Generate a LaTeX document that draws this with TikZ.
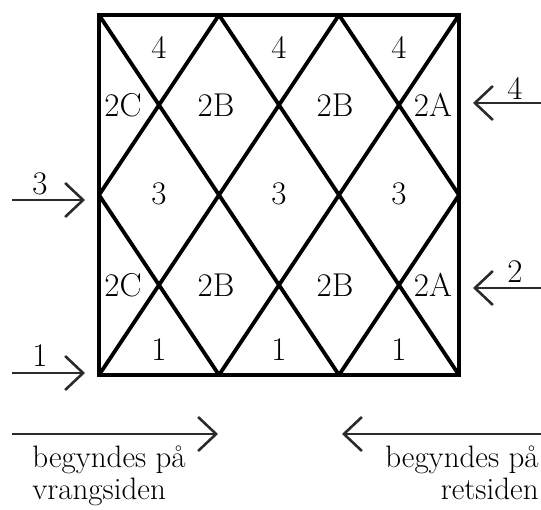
\documentclass[tikz,border=0pt]{standalone}
\usepackage{tikz}
\usetikzlibrary{arrows.meta}
\definecolor{arrowgray}{HTML}{2b2b2b}

\begin{document}
\begin{tikzpicture}[x=0.5pt, y=-0.5pt,
  every node/.style={font=\fontsize{16.5}{19}\selectfont, inner sep=0pt},
  frame/.style={line width=2.2pt},
  diag/.style={line width=1.9pt},
  arr/.style={arrowgray, line width=1.3pt,
    -{Straight Barb[length=9pt, width=17pt, line width=1.3pt]}},
  note/.style={font=\fontsize{15.5}{16}\selectfont}]

\useasboundingbox (0,0) rectangle (541,509);

% corners of the diamond grid: top, middle and bottom rows
\foreach \i/\x in {0/99, 1/219, 2/339, 3/459}{
  \coordinate (t\i) at (\x,15);
  \coordinate (m\i) at (\x,195);
  \coordinate (b\i) at (\x,375);
}

% diagonals
\draw[diag] (t0) -- (b2) (t1) -- (b3) (t2) -- (m3) (m0) -- (b1);
\draw[diag] (t1) -- (m0) (t2) -- (b0) (t3) -- (b1) (m3) -- (b2);
\draw[frame] (t0) rectangle (b3);

% numbers in the cells
\foreach \x/\k in {159/1, 279/2, 399/3}{
  \node (four\k) at (\x,47) {4};
  \node (three\k) at (\x,194) {3};
  \node (one\k) at (\x,350) {1};
}
\foreach \y/\r in {105/u, 285/l}{
  \node (twoC\r) at (123,\y) {2C};
  \node (twoBa\r) at (216,\y) {2B};
  \node (twoBb\r) at (335,\y) {2B};
  \node (twoA\r) at (433,\y) {2A};
}

% row arrows, left and right
\foreach \n/\y/\ly in {3/200/184, 1/373/356}{
  \coordinate (ls\n) at (12,\y); \coordinate (le\n) at (85,\y);
  \draw[arr] (ls\n) -- (le\n);
  \node (llab\n) at (40,\ly) {\n};
}
\foreach \n/\y/\ly in {4/103/88, 2/288/272}{
  \coordinate (rs\n) at (541,\y); \coordinate (re\n) at (473,\y);
  \draw[arr] (rs\n) -- (re\n);
  \node (rlab\n) at (515,\ly) {\n};
}

% direction of knitting
\coordinate (ws) at (12,434); \coordinate (we) at (218,434);
\coordinate (rs) at (541,434); \coordinate (re) at (342,434);
\draw[arr] (ws) -- (we);
\draw[arr] (rs) -- (re);
\node[note, anchor=north west, align=left] (vrang) at (32,446) {begyndes på\\vrangsiden};
\node[note, anchor=north east, align=right] (ret) at (539,446) {begyndes på\\retsiden};

\end{tikzpicture}
\end{document}
